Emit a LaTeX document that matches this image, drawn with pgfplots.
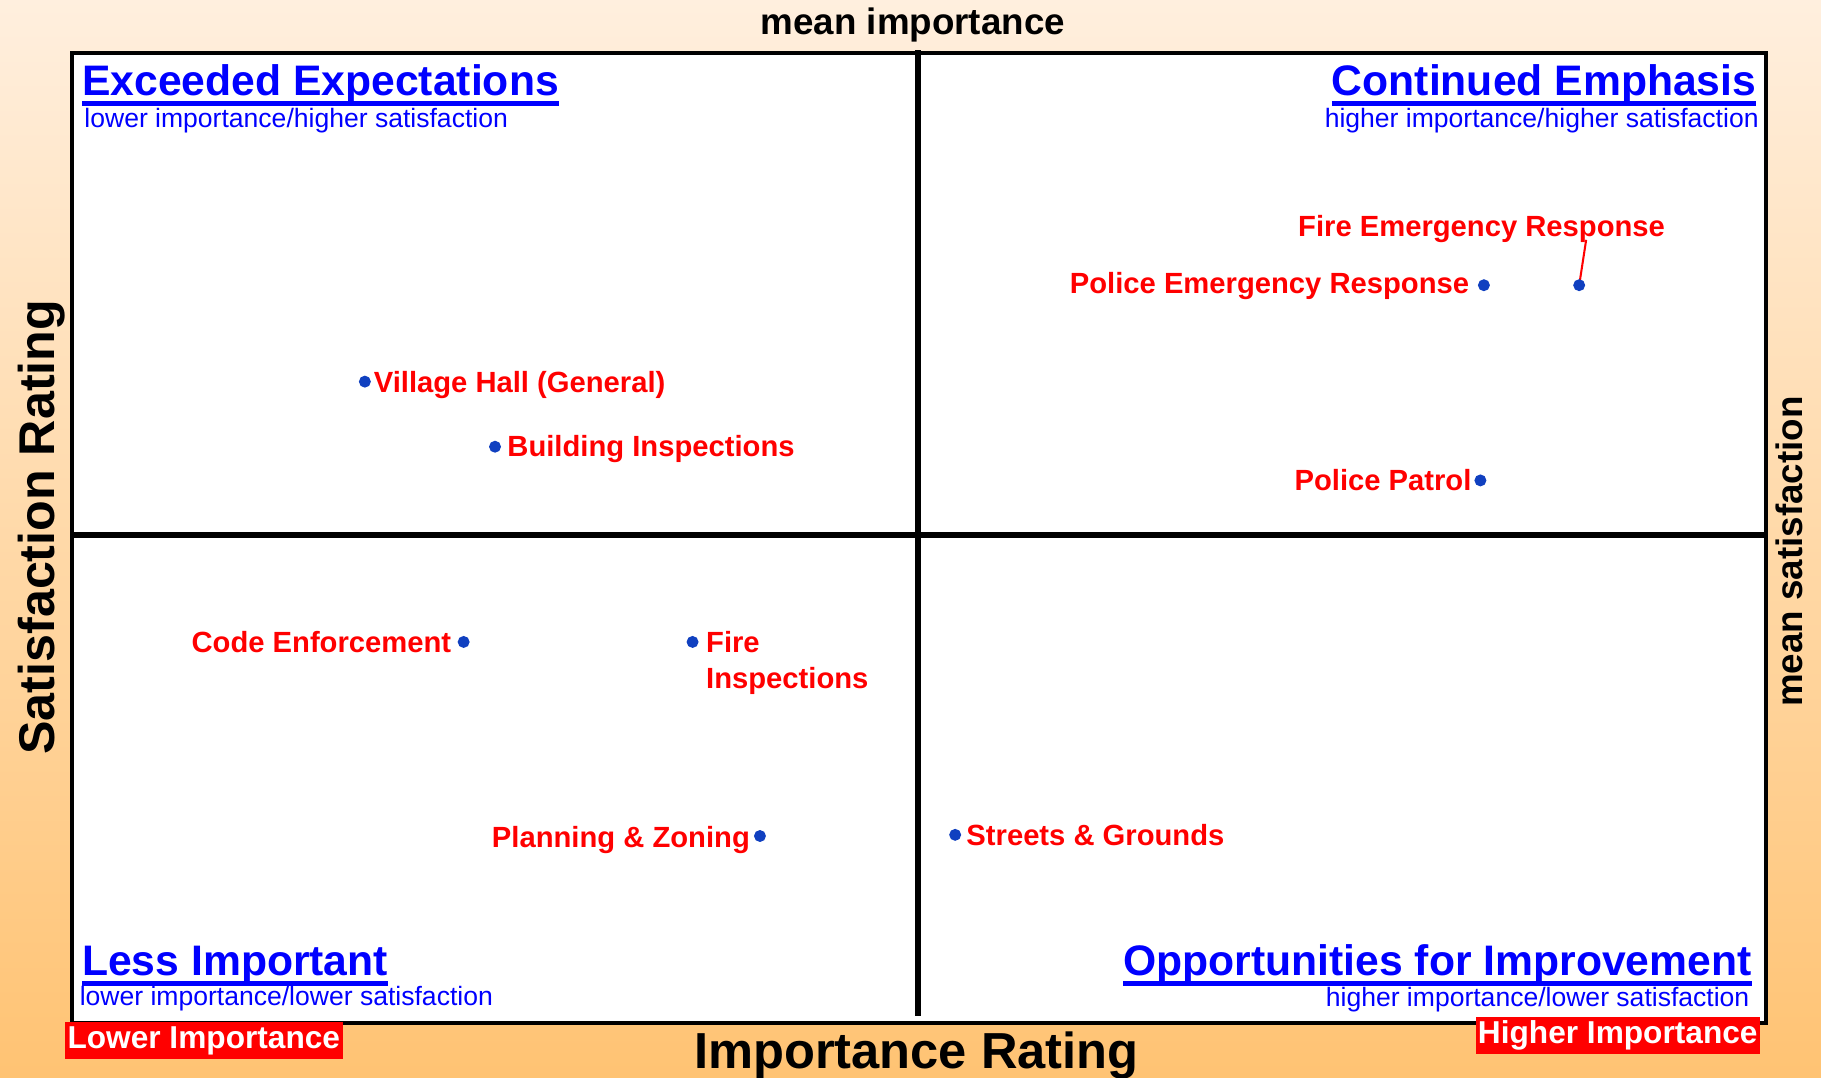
\documentclass[border=0pt]{standalone}
\usepackage{pgfplots}
\pgfplotsset{compat=1.18}
\usepackage{fontspec}
\setmainfont{Liberation Sans}

\definecolor{bgtop}{RGB}{255,239,222}
\definecolor{bgbot}{RGB}{255,195,115}
\definecolor{qblue}{RGB}{0,0,255}
\definecolor{dotblue}{RGB}{16,64,192}
\definecolor{lblred}{RGB}{255,0,0}

% thick underline for the quadrant titles
\newcommand\ttl[1]{\setbox0\hbox{#1}\rlap{\rule[-2.6pt]{\wd0}{1.2pt}}\box0}

\tikzset{lbl/.style={inner sep=0pt, text=lblred,
        font=\fontsize{7.15}{8.6}\selectfont\bfseries}}

\begin{document}
\begin{tikzpicture}[x=0.01cm,y=0.01cm]
\shade[top color=bgtop,bottom color=bgbot] (0,0) rectangle (1568,928);
\useasboundingbox (0,0) rectangle (1568,928);

\begin{axis}[
    at={(0.62cm,0.47cm)}, anchor=south west,
    scale only axis,
    width=14.58cm, height=8.35cm,
    xmin=62, xmax=1520, ymin=47, ymax=882,
    xtick=\empty, ytick=\empty,
    axis line style={line width=0.9pt},
    axis background/.style={fill=white},
    clip=false,
]
% mean lines
\draw[line width=1.4pt] (axis cs:790,884) -- (axis cs:790,53);
\draw[line width=1.4pt] (axis cs:62,467) -- (axis cs:1518,467);

\addplot[only marks, mark=*, mark size=1.25pt, color=dotblue] coordinates {
(314,599)
(426,543)
(1277,682)
(1359,682)
(1274,514)
(399,375)
(596,375)
(654,208)
(822,209)
};

\draw[lblred, line width=0.5pt] (axis cs:1359,682) -- (axis cs:1365,721);

\node[lbl, anchor=base west] at (axis cs:321,590) {Village Hall (General)};
\node[lbl, anchor=base west] at (axis cs:436,535) {Building Inspections};
\node[lbl, anchor=base east] at (axis cs:1265,675) {Police Emergency Response};
\node[lbl, anchor=base] at (axis cs:1275,724) {Fire Emergency Response};
\node[lbl, anchor=base east] at (axis cs:1267,505) {Police Patrol};
\node[lbl, anchor=base east] at (axis cs:389,366) {Code Enforcement};
\node[lbl, anchor=base west] at (axis cs:607,366) {Fire};
\node[lbl, anchor=base west] at (axis cs:607,335) {Inspections};
\node[lbl, anchor=base east] at (axis cs:646,198) {Planning \& Zoning};
\node[lbl, anchor=base west] at (axis cs:831,200) {Streets \& Grounds};
\end{axis}

% quadrant titles
\begin{scope}[every node/.style={inner sep=0pt, text=qblue}]
\node[anchor=base west, font=\fontsize{10.45}{12}\selectfont\bfseries] at (70,846) {\ttl{Exceeded Expectations}};
\node[anchor=base west, font=\fontsize{6.5}{8}\selectfont] at (72,818) {lower importance/higher satisfaction};
\node[anchor=base east, font=\fontsize{10.45}{12}\selectfont\bfseries] at (1513,846) {\ttl{Continued Emphasis}};
\node[anchor=base east, font=\fontsize{6.5}{8}\selectfont] at (1515,818) {higher importance/higher satisfaction};
\node[anchor=base west, font=\fontsize{10.45}{12}\selectfont\bfseries] at (70,88) {\ttl{Less Important}};
\node[anchor=base west, font=\fontsize{6.5}{8}\selectfont] at (68,62) {lower importance/lower satisfaction};
\node[anchor=base east, font=\fontsize{10.45}{12}\selectfont\bfseries] at (1509,88) {\ttl{Opportunities for Improvement}};
\node[anchor=base east, font=\fontsize{6.5}{8}\selectfont] at (1507,61) {higher importance/lower satisfaction};
\end{scope}

% outer labels
\node[anchor=base, inner sep=0pt, font=\fontsize{9}{11}\selectfont\bfseries] at (786,898) {mean importance};
\node[anchor=base, inner sep=0pt, rotate=90, font=\fontsize{9}{11}\selectfont\bfseries] at (1552,453) {mean satisfaction};
\node[anchor=base, inner sep=0pt, font=\fontsize{12.4}{14}\selectfont\bfseries] at (789,8) {Importance Rating};
\node[anchor=base, inner sep=0pt, rotate=90, font=\fontsize{12.3}{14}\selectfont\bfseries] at (47,474) {Satisfaction Rating};

% corner tags
\fill[lblred] (56,16) rectangle (295,48);
\node[text=white, inner sep=0pt, font=\fontsize{7.75}{9}\selectfont\bfseries] at (175.5,32) {Lower Importance};
\fill[lblred] (1271,20.5) rectangle (1515.5,52.6);
\node[text=white, inner sep=0pt, font=\fontsize{7.75}{9}\selectfont\bfseries] at (1393,36.5) {Higher Importance};
\end{tikzpicture}
\end{document}
